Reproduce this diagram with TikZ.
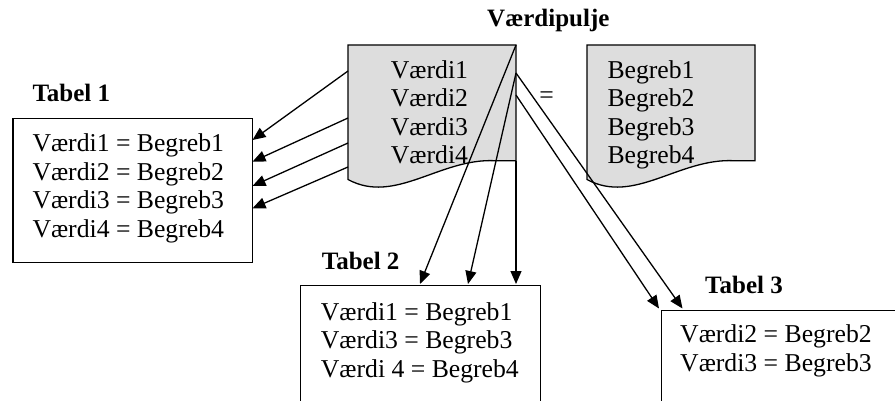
\documentclass[tikz,border=0pt]{standalone}
\usepackage{fontspec}
\setmainfont{Liberation Serif}
\usetikzlibrary{arrows.meta}
\definecolor{docgray}{RGB}{221,221,221}
\begin{document}
\begin{tikzpicture}[x=1pt,y=-1pt,
  lbl/.style={inner sep=0pt, anchor=base west, font=\fontsize{25.7}{29}\selectfont},
  ttl/.style={inner sep=0pt, anchor=base west, font=\fontsize{25}{28}\selectfont\bfseries},
  tbox/.style={draw, line width=1.4pt, inner sep=0pt, anchor=north west},
  doc/.style={draw, line width=1.3pt, fill=docgray},
  link/.style={line width=1.3pt, -{Triangle[length=13pt,width=11pt]}}]
\clip (0,0) rectangle (895,401);

% document shapes
\draw[doc] (348,45) -- (516,45) -- (516,160.7) -- (495,160.7)
  .. controls (440,158) and (395,205) .. (348,179.5) -- cycle;
\draw[doc] (587,45) -- (755,45) -- (755,160.7) -- (734,160.7)
  .. controls (679,158) and (634,205) .. (587,179.5) -- cycle;

% tables
\node[tbox, minimum width=239.4pt, minimum height=144pt] (t1) at (12.3,117.7) {};
\node[tbox, minimum width=239.5pt, minimum height=200pt] (t2) at (300,285) {};
\node[tbox, minimum width=300pt, minimum height=200pt] (t3) at (660.5,309.5) {};

% titles
\node[ttl] (ttop) at (487,26.7) {Værdipulje};
\node[ttl] (tt1) at (32.3,101.7) {Tabel 1};
\node[ttl] (tt2) at (321.7,269.3) {Tabel 2};
\node[ttl] (tt3) at (705,293.3) {Tabel 3};

% pool texts
\node[lbl] (v1) at (390.7,78.3) {Værdi1};
\node[lbl] (v2) at (390.7,106.7) {Værdi2};
\node[lbl] (v3) at (390.7,135.1) {Værdi3};
\node[lbl] (v4) at (390.7,163.5) {Værdi4};
\node[lbl] (b1) at (607.3,78.3) {Begreb1};
\node[lbl] (b2) at (607.3,106.7) {Begreb2};
\node[lbl] (b3) at (607.3,135.1) {Begreb3};
\node[lbl] (b4) at (607.3,163.5) {Begreb4};
\node[inner sep=0pt, font=\fontsize{25.7}{29}\selectfont] (eq) at (546.5,97.5) {=};

% table texts
\node[lbl] (r11) at (32.3,151.7) {Værdi1 = Begreb1};
\node[lbl] (r12) at (32.3,180.2) {Værdi2 = Begreb2};
\node[lbl] (r13) at (32.3,208.7) {Værdi3 = Begreb3};
\node[lbl] (r14) at (32.3,237.2) {Værdi4 = Begreb4};
\node[lbl] (r21) at (320.7,320) {Værdi1 = Begreb1};
\node[lbl] (r22) at (320.7,348.7) {Værdi3 = Begreb3};
\node[lbl] (r23) at (320.7,377.3) {Værdi 4 = Begreb4};
\node[lbl] (r31) at (680,342.7) {Værdi2 = Begreb2};
\node[lbl] (r32) at (680,371) {Værdi3 = Begreb3};

% connector end points
\coordinate (pa) at (348,71);
\coordinate (pb) at (348,118);
\coordinate (pc) at (348,143);
\coordinate (pd) at (348,167);
\coordinate (pne) at (516,45);
\coordinate (pr1) at (516,73);
\coordinate (pr2) at (516,95);
\coordinate (pbot) at (516,160.7);
\coordinate (a1) at (252.5,140);
\coordinate (a2) at (252.5,161.7);
\coordinate (a3) at (252.5,186);
\coordinate (a4) at (252.5,208.3);
\coordinate (c1) at (420,284);
\coordinate (c2) at (468,284);
\coordinate (c3) at (516,284);
\coordinate (d1) at (659,308.5);
\coordinate (d2) at (682.5,308.5);

\draw[link] (pa) -- (a1);
\draw[link] (pb) -- (a2);
\draw[link] (pc) -- (a3);
\draw[link] (pd) -- (a4);
\draw[link] (pne) -- (c1);
\draw[link] (pr1) -- (c2);
\draw[link] (pbot) -- (c3);
\draw[link] (pr1) -- (d2);
\draw[link] (pr2) -- (d1);
\end{tikzpicture}
\end{document}
